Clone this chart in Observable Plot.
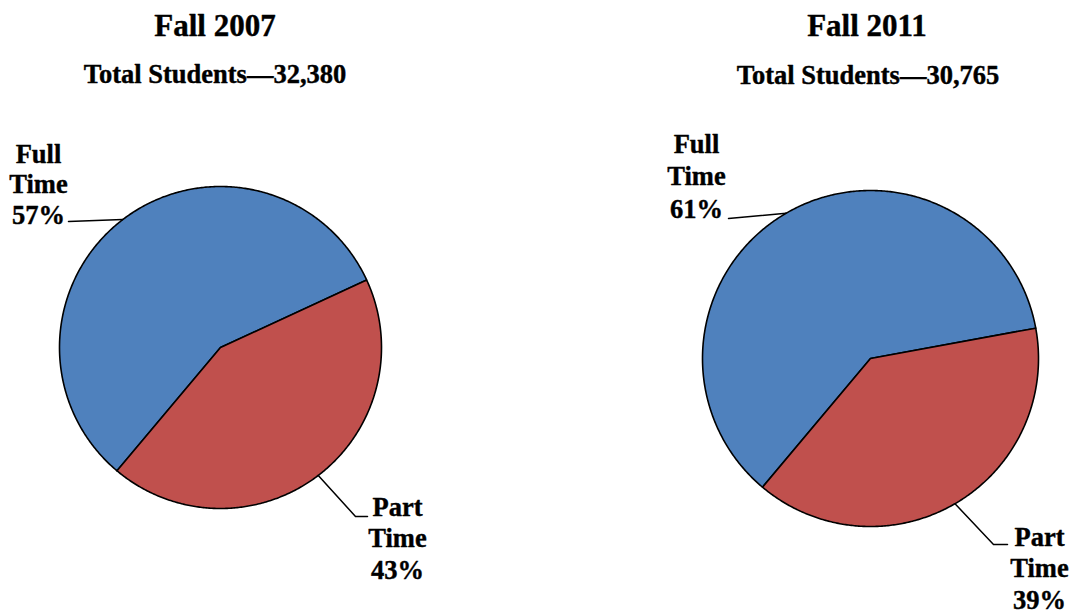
<!DOCTYPE html>
<html>
<head>
<meta charset="utf-8">
<script src="https://cdn.jsdelivr.net/npm/d3@7"></script>
<script src="https://cdn.jsdelivr.net/npm/@observablehq/plot@0.6"></script>
<style>
  html, body { margin: 0; padding: 0; background: #fff; overflow: hidden; }
</style>
</head>
<body>
<div id="chart"></div>
<script>
// ---- data ----
const years = ["Fall 2007", "Fall 2011"];
const totals = [32380, 30765];
const categories = ["Full Time", "Part Time"];
const fullTimePct = [57, 61];
const partTimePct = [43, 39];

// ---- layout / style ----
const W = 1074, H = 616;
const colors = {"Full Time": "#4F81BD", "Part Time": "#C0504D"};
const pies = [
  {cx: 220, cy: 347, r: 161, titleX: 214.5, titleY: 35, subX: 214.5, subY: 82},
  {cx: 870, cy: 358, r: 168, titleX: 866.5, titleY: 35, subX: 867.5, subY: 83}
];
// label anchors: text centre, first baseline, line spacing, leader elbow & end
const labelLayout = [
  {"Full Time": {x: 38, y: 162, lh: 30.5, leader: [[68, 221]]},
   "Part Time": {x: 397, y: 515, lh: 31.5, leader: [[355, 516], [367, 516]]}},
  {"Full Time": {x: 696, y: 152, lh: 32.5, leader: [[728, 218]]},
   "Part Time": {x: 1039, y: 545, lh: 31.5, leader: [[993, 544], [1007, 544]]}}
];
const startDeg = 220;
const rad = d => d * Math.PI / 180;
const fontFamily = "'Liberation Serif', 'Times New Roman', serif";
const labelSize = 26.5;

// ---- build geometry from data ----
const slicePoints = [];
const leaderPoints = [];
const labels = [];
const titles = [];

years.forEach((year, i) => {
  const p = pies[i];
  const values = [fullTimePct[i], partTimePct[i]];
  const arcs = d3.pie().sort(null)
    .startAngle(rad(startDeg)).endAngle(rad(startDeg + 360))(values);
  const pt = (a, r) => [p.cx + r * Math.sin(a), p.cy - r * Math.cos(a)];
  arcs.forEach((a, j) => {
    const cat = categories[j];
    const key = year + "|" + cat;
    slicePoints.push({key, cat, x: p.cx, y: p.cy});
    const n = Math.max(2, Math.ceil((a.endAngle - a.startAngle) / rad(0.5)));
    for (let k = 0; k <= n; k++) {
      const ang = a.startAngle + (a.endAngle - a.startAngle) * k / n;
      const [x, y] = pt(ang, p.r);
      slicePoints.push({key, cat, x, y});
    }
    slicePoints.push({key, cat, x: p.cx, y: p.cy});

    // leader line from mid-angle edge
    const mid = (a.startAngle + a.endAngle) / 2;
    const [ex, ey] = pt(mid, p.r);
    const L = labelLayout[i][cat];
    leaderPoints.push({key, x: ex, y: ey});
    L.leader.forEach(([x, y]) => leaderPoints.push({key, x, y}));

    // label text
    const words = cat.split(" ");
    const lines = [words[0], words[1], values[j] + "%"];
    lines.forEach((t, li) => labels.push({x: L.x, y: L.y + li * L.lh, text: t}));
  });
  titles.push({x: p.titleX, y: p.titleY, text: year, size: 31});
  titles.push({x: p.subX, y: p.subY, text: "Total Students\u2014" + d3.format(",")(totals[i]), size: 26.5});
});

// baseline -> Plot default middle anchor offset (0.32em)
const base = (y, fs) => y - 0.32 * fs;

const chart = Plot.plot({
  width: W,
  height: H,
  margin: 0,
  x: {domain: [0, W], range: [0, W], axis: null},
  y: {domain: [0, H], range: [0, H], axis: null},
  style: {background: "#fff", overflow: "visible"},
  marks: [
    ...categories.map(cat => Plot.line(slicePoints.filter(d => d.cat === cat), {
      x: "x", y: "y", z: "key",
      fill: colors[cat], stroke: "black", strokeWidth: 1.6,
      strokeLinejoin: "round"
    })),
    Plot.line(leaderPoints, {x: "x", y: "y", z: "key", stroke: "black", strokeWidth: 1.5}),
    Plot.text(labels, {
      x: "x", y: d => base(d.y, labelSize), text: "text",
      fontFamily, fontWeight: "bold", fontSize: labelSize, fill: "black",
      stroke: "black", strokeWidth: 0.4,
      textAnchor: "middle", letterSpacing: "0.5px"
    }),
    ...[31, 26.5].map(fs => Plot.text(titles.filter(d => d.size === fs), {
      x: "x", y: d => base(d.y, fs), text: "text",
      fontFamily, fontWeight: "bold", fontSize: fs, fill: "black",
      stroke: "black", strokeWidth: 0.4,
      textAnchor: "middle"
    }))
  ]
});
document.getElementById("chart").appendChild(chart);
</script>
</body>
</html>
